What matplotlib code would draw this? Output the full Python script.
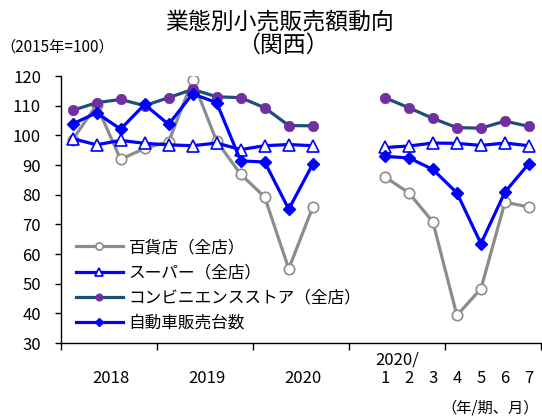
import numpy as np
import matplotlib
matplotlib.use("Agg")
import matplotlib.pyplot as plt
from matplotlib.transforms import blended_transform_factory

plt.rcParams['font.family'] = ['Noto Sans CJK JP', 'DejaVu Sans']

# ---- data ----
year_labels = ["2018", "2019", "2020"]
month_labels = ["1", "2", "3", "4", "5", "6", "7"]
month_header = "2020/"
series_names = ["百貨店（全店）", "スーパー（全店）", "コンビニエンスストア（全店）", "自動車販売台数"]

dept_q = [98.5, 110.2, 91.9, 95.6, 97.8, 118.6, 98.0, 86.9, 79.2, 55.0, 75.8]
dept_m = [86.0, 80.6, 70.8, 39.3, 48.3, 77.5, 75.8]
super_q = [98.9, 96.8, 98.3, 97.3, 96.8, 96.5, 97.4, 95.2, 96.5, 96.9, 96.5]
super_m = [95.9, 96.4, 97.4, 97.3, 96.6, 97.4, 96.5]
conv_q = [108.4, 111.0, 112.1, 110.0, 112.7, 115.5, 113.0, 112.7, 109.3, 103.3, 103.2]
conv_m = [112.7, 109.3, 105.7, 102.6, 102.4, 104.8, 103.0]
auto_q = [103.8, 107.6, 102.1, 110.4, 103.7, 114.0, 111.0, 91.4, 91.0, 75.1, 90.3]
auto_m = [92.9, 92.4, 88.5, 80.6, 63.5, 80.9, 90.5]

W, H = 542, 419
fig = plt.figure(figsize=(W / 100, H / 100), dpi=100)
ax = fig.add_axes([60.5 / W, 1 - 343 / H, (541 - 60.5) / W, (343 - 76) / H])

n_q = len(dept_q)
gap = 2
x_all = np.arange(n_q + gap + len(dept_m))

def join(a, b):
    return np.array(list(a) + [np.nan] * gap + list(b), dtype=float)

gray = "#8c8c8c"
blue = "#0000ff"
navy = "#1f4e79"
purple = "#7030a0"

ax.plot(x_all, join(dept_q, dept_m), color=gray, lw=2.3, marker="o", ms=7.5,
        mfc="white", mec=gray, mew=1.2, label=series_names[0], zorder=2)
ax.plot(x_all, join(super_q, super_m), color=blue, lw=2.3, marker="^", ms=9,
        mfc="white", mec=blue, mew=1.2, label=series_names[1], zorder=3)
ax.plot(x_all, join(conv_q, conv_m), color=navy, lw=2.3, marker="o", ms=7.5,
        mfc=purple, mec=purple, mew=0.5, label=series_names[2], zorder=4)
ax.plot(x_all, join(auto_q, auto_m), color=blue, lw=2.3, marker="D", ms=6,
        mfc=blue, mec=blue, label=series_names[3], zorder=5)

ax.set_xlim(-0.5, len(x_all) - 0.5)
ax.set_ylim(30, 120)
ax.set_yticks(np.arange(30, 121, 10))
ax.set_xticks(np.arange(-0.5, len(x_all), 4))
ax.set_xticklabels([])
ax.tick_params(axis="y", direction="out", length=4, width=1, labelsize=12, pad=10)
ax.tick_params(axis="x", direction="out", length=5, width=1)
for s in ["top", "right"]:
    ax.spines[s].set_visible(False)
for s in ["left", "bottom"]:
    ax.spines[s].set_linewidth(1)
    ax.spines[s].set_color("black")

tr = blended_transform_factory(ax.transData, fig.transFigure)
for i, lab in enumerate(year_labels):
    ax.text(1.5 + 4 * i + 0.1, 1 - 378 / H, lab, transform=tr, ha="center", va="center", fontsize=12)
m0 = n_q + gap
for j, lab in enumerate(month_labels):
    ax.text(m0 + j, 1 - 378 / H, lab, transform=tr, ha="center", va="center", fontsize=12)
ax.text(m0 + 0.5, 1 - 360 / H, month_header, transform=tr, ha="center", va="center", fontsize=12)

fig.text(539 / W, 1 - 408 / H, "（年/期、月）", ha="right", va="center", fontsize=11)
fig.text(0 / W, 1 - 47 / H, "（2015年=100）", ha="left", va="center", fontsize=11)
fig.text(279 / W, 1 - 22 / H, "業態別小売販売額動向", ha="center", va="center", fontsize=16.5)
fig.text(283 / W, 1 - 45 / H, "（関西）", ha="center", va="center", fontsize=16.5)

ax.legend(loc="upper left", bbox_to_anchor=(76 / W, 1 - 239 / H), bbox_transform=fig.transFigure,
          frameon=False, fontsize=12, handlelength=2.8, handletextpad=0.35,
          labelspacing=0.5, borderpad=0, borderaxespad=0, markerscale=0.7)

fig.savefig("out.png", dpi=100)
